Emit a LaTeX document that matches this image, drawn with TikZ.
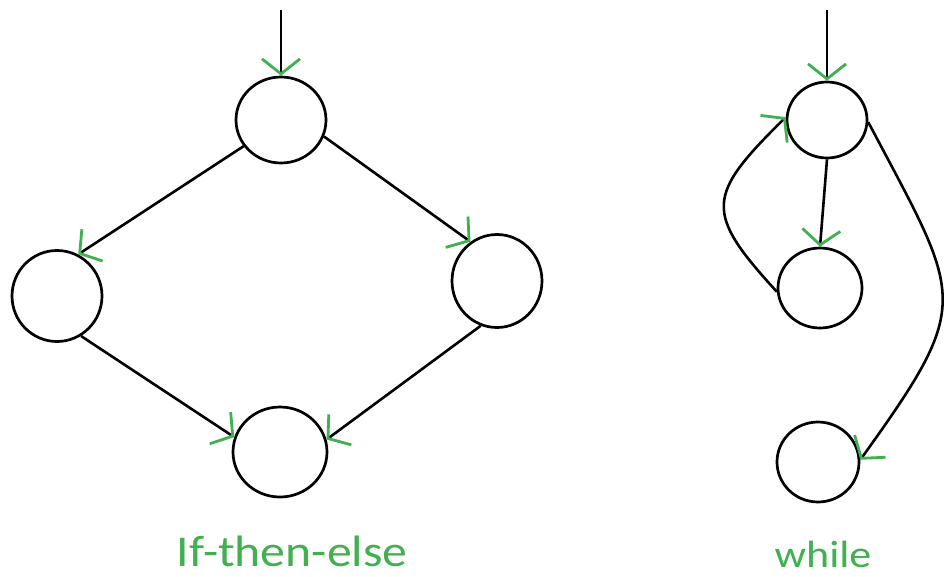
\documentclass[tikz,border=0pt]{standalone}
\usepackage{fontspec}
\setmainfont{Carlito}
\usetikzlibrary{arrows.meta,shapes.geometric}
\definecolor{agreen}{RGB}{64,176,80}
\tikzset{
  vtx/.style={draw=black, ellipse, line width=2.7pt, inner sep=0pt},
  arr/.style={draw=black, line width=2.6pt, -{Straight Barb[color=agreen,length=15pt,width=38pt,line width=2.8pt]}},
  lbl/.style={text=agreen, inner sep=0pt, anchor=base}
}
\begin{document}
\begin{tikzpicture}[x=1pt,y=-1pt]
\useasboundingbox[fill=white] (0,0) rectangle (950,576);
% If-then-else
\node[vtx, minimum width=90pt, minimum height=86pt] (t) at (281,120) {};
\node[vtx, minimum width=90pt, minimum height=91pt] (L) at (57,296) {};
\node[vtx, minimum width=90pt, minimum height=93pt] (R) at (497,281) {};
\node[vtx, minimum width=94pt, minimum height=90pt] (B) at (280,452) {};
\coordinate (tin) at (281,10);
\draw[arr] (tin) -- (t.north);
\draw[arr] (t.215) -- (L.63);
\draw[arr] (t.-21) -- (R.124);
\draw[arr] (L.-59) -- (B.162);
\draw[arr] (R.250) -- (B.15);
% while
\node[vtx, minimum width=80pt, minimum height=76pt] (wt) at (827,120) {};
\node[vtx, minimum width=84pt, minimum height=80pt] (wm) at (820,288) {};
\node[vtx, minimum width=82pt, minimum height=80pt] (wb) at (818,462) {};
\coordinate (win) at (827,10);
\draw[arr] (win) -- (wt.north);
\draw[arr] (wt.south) -- (wm.north);
\draw[arr] (wm.185) .. controls (704,212) and (706,196) .. (wt.176);
\draw[arr] (wt.-3) .. controls (962,300) and (975,300) .. (wb.3);
% labels
\node[lbl] (ite) at (292,566) {\fontsize{44}{50}\selectfont\scalebox{1.13}[1]{If-then-else}};
\node[lbl] (wh) at (823,567) {\fontsize{38}{42}\selectfont\scalebox{1.16}[1]{while}};
\end{tikzpicture}
\end{document}
